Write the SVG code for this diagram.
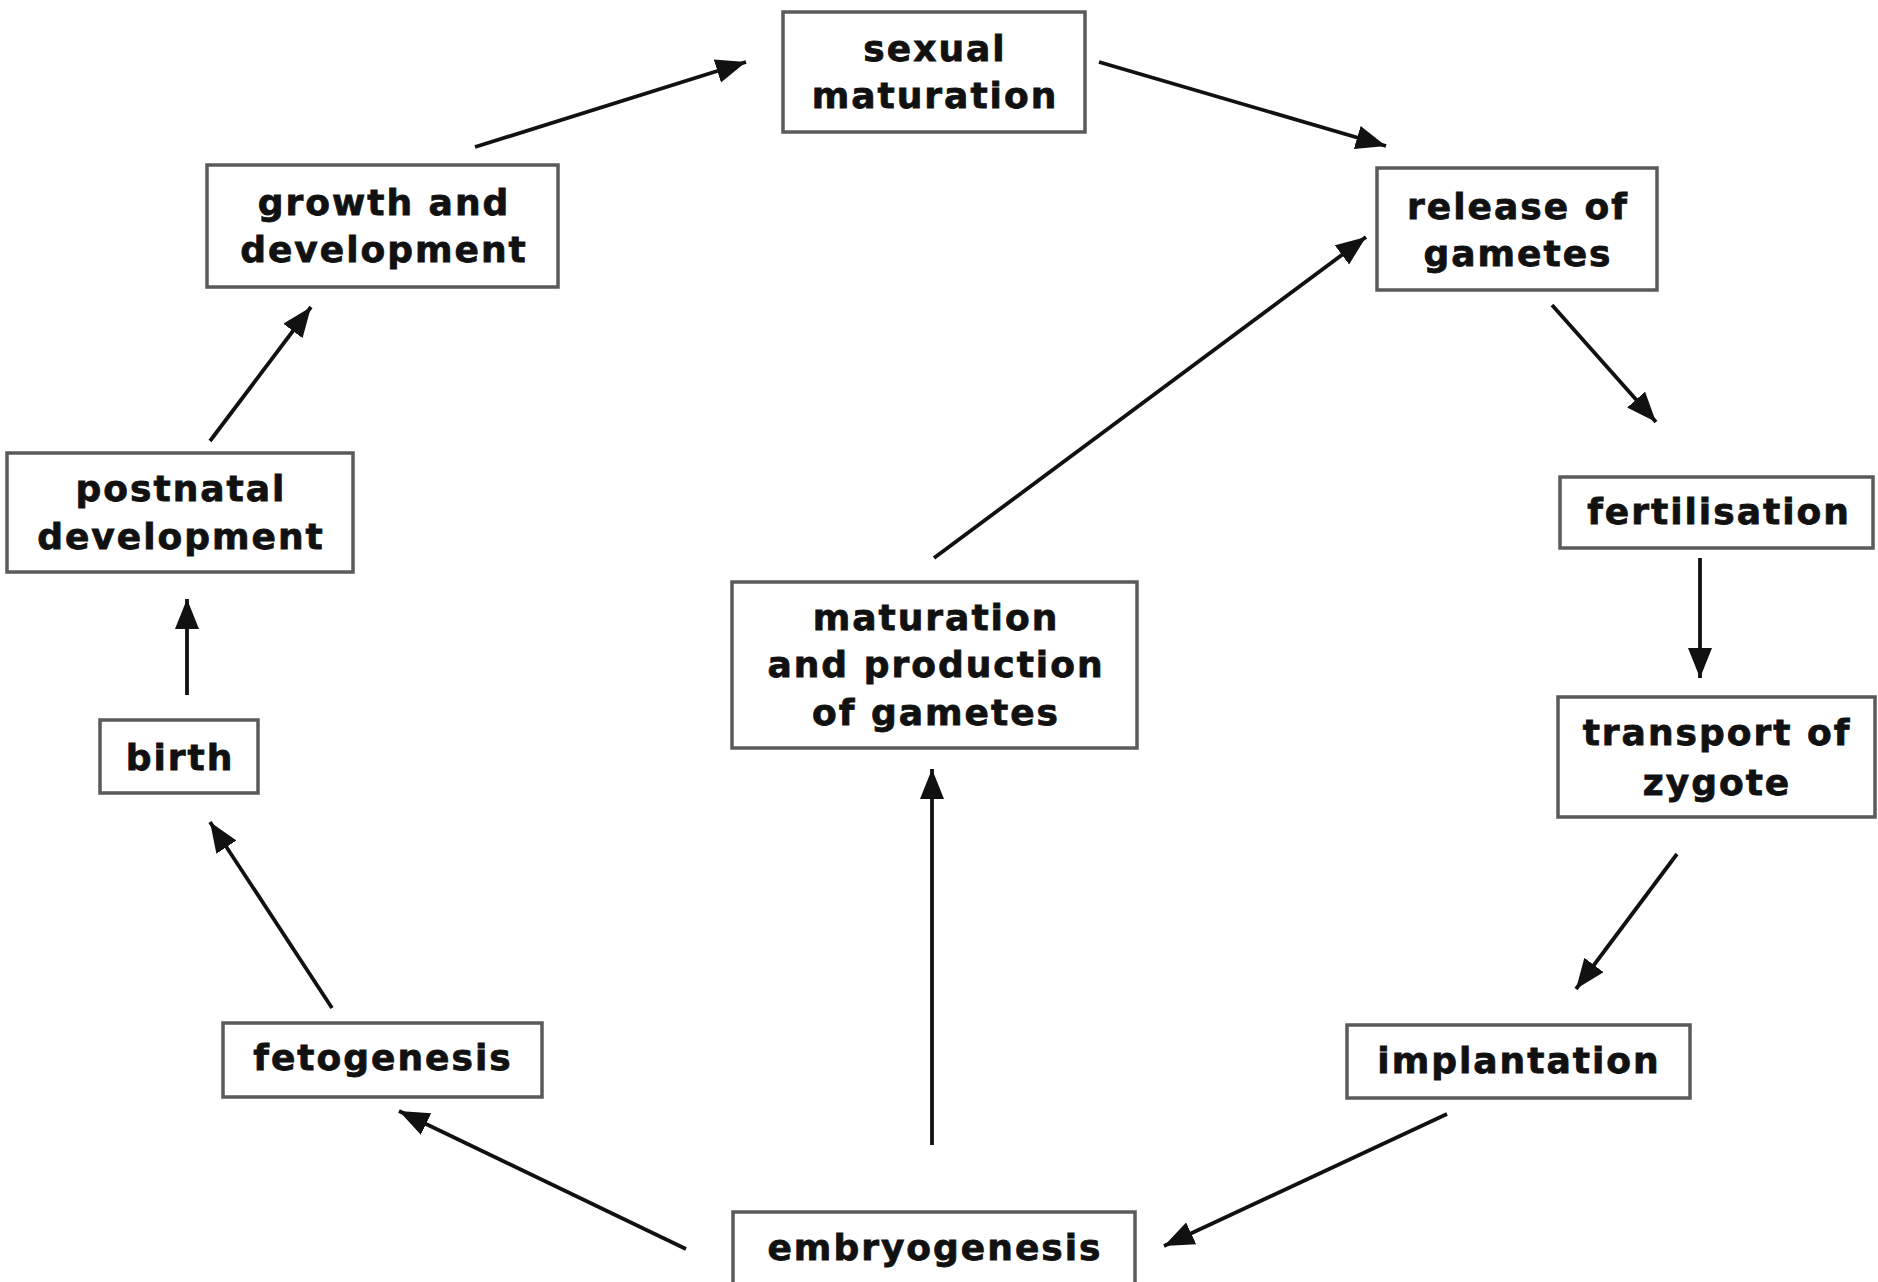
<svg xmlns="http://www.w3.org/2000/svg" width="1878" height="1282" viewBox="0 0 1878 1282">
<style>
.box{fill:#fff;stroke:#5a5a5a;stroke-width:3.5}
.t{font-family:"DejaVu Sans",Verdana,sans-serif;font-weight:bold;font-size:36px;letter-spacing:2px;fill:#111;stroke:#111;stroke-width:0.8;text-anchor:middle}
.c{stroke:#111;stroke-width:3.8;fill:none;marker-end:url(#ah)}
</style>
<defs>
<marker id="ah" markerUnits="userSpaceOnUse" markerWidth="32" markerHeight="26" refX="30" refY="12" orient="auto">
<path d="M0,0 L30,12 L0,24 z" fill="#111"/>
</marker>
</defs>
<rect width="1878" height="1282" fill="#fff"/>
<g id="connectors">
<line class="c" x1="475" y1="147" x2="746" y2="62"/>
<line class="c" x1="1099" y1="62" x2="1386" y2="146"/>
<line class="c" x1="1552" y1="305" x2="1656" y2="422"/>
<line class="c" x1="1700" y1="558" x2="1700" y2="678"/>
<line class="c" x1="1677" y1="854" x2="1576" y2="989"/>
<line class="c" x1="1447" y1="1114" x2="1164" y2="1246"/>
<line class="c" x1="686" y1="1249" x2="399" y2="1111"/>
<line class="c" x1="332" y1="1008" x2="210" y2="822"/>
<line class="c" x1="187" y1="695" x2="187" y2="599"/>
<line class="c" x1="210" y1="441" x2="311" y2="307"/>
<line class="c" x1="932" y1="1145" x2="932" y2="769"/>
<line class="c" x1="934" y1="558" x2="1366" y2="237"/>
</g>
<g id="sexual-maturation">
<rect class="box" x="783" y="12" width="302" height="120"/>
<text class="t" x="935" y="61">sexual</text>
<text class="t" x="935" y="108">maturation</text>
</g>
<g id="release-of-gametes">
<rect class="box" x="1377" y="168" width="280" height="122"/>
<text class="t" x="1518" y="219">release of</text>
<text class="t" x="1518" y="266">gametes</text>
</g>
<g id="fertilisation">
<rect class="box" x="1560" y="477" width="313" height="71"/>
<text class="t" x="1719" y="524">fertilisation</text>
</g>
<g id="transport-of-zygote">
<rect class="box" x="1558" y="697" width="317" height="120"/>
<text class="t" x="1717" y="745">transport of</text>
<text class="t" x="1717" y="795">zygote</text>
</g>
<g id="implantation">
<rect class="box" x="1347" y="1025" width="343" height="73"/>
<text class="t" x="1519" y="1073">implantation</text>
</g>
<g id="embryogenesis">
<rect class="box" x="733" y="1212" width="402" height="80"/>
<text class="t" x="935" y="1260">embryogenesis</text>
</g>
<g id="fetogenesis">
<rect class="box" x="223" y="1023" width="319" height="74"/>
<text class="t" x="383" y="1070">fetogenesis</text>
</g>
<g id="birth">
<rect class="box" x="100" y="720" width="158" height="73"/>
<text class="t" x="180" y="770">birth</text>
</g>
<g id="postnatal-development">
<rect class="box" x="7" y="453" width="346" height="119"/>
<text class="t" x="181" y="501">postnatal</text>
<text class="t" x="181" y="549">development</text>
</g>
<g id="growth-and-development">
<rect class="box" x="207" y="165" width="351" height="122"/>
<text class="t" x="384" y="215">growth and</text>
<text class="t" x="384" y="262">development</text>
</g>
<g id="maturation-and-production-of-gametes">
<rect class="box" x="732" y="582" width="405" height="166"/>
<text class="t" x="936" y="630">maturation</text>
<text class="t" x="936" y="677">and production</text>
<text class="t" x="936" y="725">of gametes</text>
</g>
</svg>
